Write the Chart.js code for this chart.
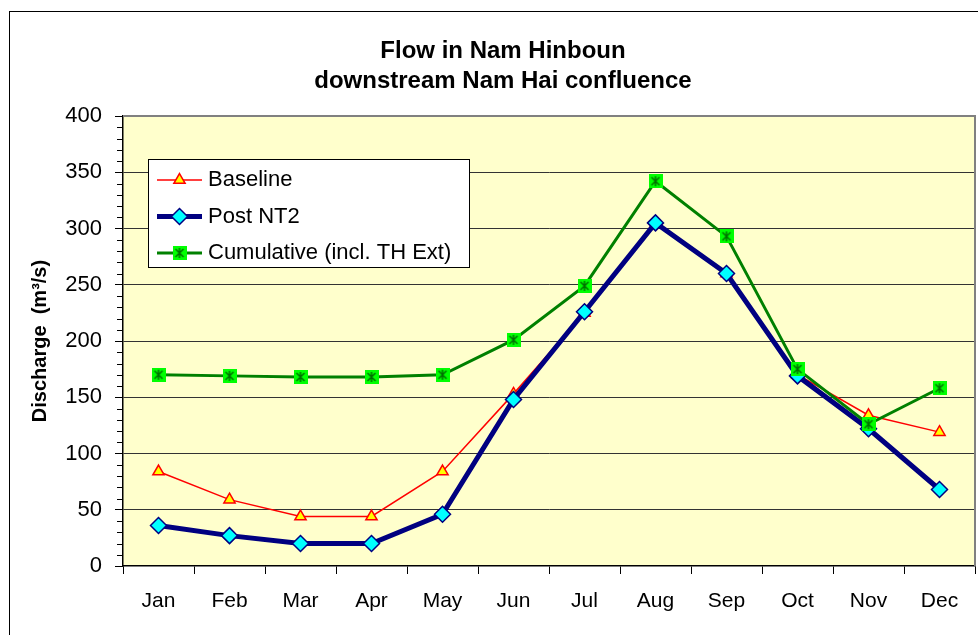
<!DOCTYPE html>
<html>
<head>
<meta charset="utf-8">
<title>Flow in Nam Hinboun</title>
<script src="https://cdn.jsdelivr.net/npm/chart.js@4/dist/chart.umd.min.js"></script>
<style>
  html, body { margin: 0; padding: 0; background: #fff; }
  canvas { display: block; }
</style>
</head>
<body>
<canvas id="flowChart" width="978" height="635"></canvas>
<script>
var months = ["Jan", "Feb", "Mar", "Apr", "May", "Jun", "Jul", "Aug", "Sep", "Oct", "Nov", "Dec"]
var baseline = [84, 59, 44, 44, 84, 153, 225, 304, 260, 170, 134, 119]
var postNT2 = [36, 27, 20, 20, 46, 148, 226, 305, 260, 169, 122, 68]
var cumulative = [170, 169, 168, 168, 170, 201, 249, 342, 293, 175, 126, 158]
var titleLines = ["Flow in Nam Hinboun", "downstream Nam Hai confluence"]
var yTitle = "Discharge  (m\u00b3/s)"

var fontFamily = "'Liberation Sans', Arial, sans-serif"
Chart.defaults.font.family = fontFamily
Chart.defaults.color = "#000"

// green square with a dark asterisk, like the Excel marker
function starSquare() {
  var c = document.createElement("canvas")
  c.width = 14
  c.height = 14
  var g = c.getContext("2d")
  g.fillStyle = "#00ff00"
  g.fillRect(0, 0, 14, 14)
  g.strokeStyle = "#007000"
  g.lineWidth = 1.5
  g.beginPath()
  g.moveTo(7, 2); g.lineTo(7, 12)
  g.moveTo(3, 3); g.lineTo(11, 11)
  g.moveTo(11, 3); g.lineTo(3, 11)
  g.stroke()
  return c
}

var chartFrame = {
  id: "chartFrame",
  beforeDraw: function(chart) {
    var ctx = chart.ctx
    var a = chart.chartArea
    ctx.save()
    ctx.fillStyle = "#ffffcc"
    ctx.fillRect(a.left, a.top, a.right - a.left, a.bottom - a.top)
    ctx.strokeStyle = "#000"
    ctx.lineWidth = 1
    ctx.strokeRect(9.5, 11.5, 2000, 2000)

    ctx.fillStyle = "#000"
    ctx.font = "bold 24px " + fontFamily
    ctx.textAlign = "center"
    ctx.textBaseline = "alphabetic"
    ctx.fillText(titleLines[0], 503, 58)
    ctx.fillText(titleLines[1], 503, 88)
    ctx.restore()
  },
  afterDraw: function(chart) {
    var ctx = chart.ctx
    var a = chart.chartArea
    var y = chart.scales.y
    ctx.save()
    // plot area border, top and right
    ctx.strokeStyle = "#808080"
    ctx.lineWidth = 2
    ctx.beginPath()
    ctx.moveTo(a.left, a.top)
    ctx.lineTo(a.right, a.top)
    ctx.lineTo(a.right, a.bottom)
    ctx.stroke()

    // minor ticks every 10
    ctx.strokeStyle = "#000"
    ctx.lineWidth = 1
    ctx.beginPath()
    for (var v = 10; v < 400; v += 10) {
      if (v % 50 === 0) continue
      var py = Math.round(y.getPixelForValue(v)) + 0.5
      ctx.moveTo(a.left - 6, py)
      ctx.lineTo(a.left, py)
    }
    ctx.stroke()

    // legend
    ctx.fillStyle = "#fff"
    ctx.fillRect(148.5, 159.5, 321, 108)
    ctx.strokeStyle = "#000"
    ctx.lineWidth = 1
    ctx.strokeRect(148.5, 159.5, 321, 108)
    chart.data.datasets.forEach(function(ds, i) {
      var ly = 180 + i * 36.5
      ctx.strokeStyle = ds.borderColor
      ctx.lineWidth = ds.borderWidth
      ctx.beginPath()
      ctx.moveTo(157, ly)
      ctx.lineTo(202, ly)
      ctx.stroke()
      ctx.fillStyle = ds.pointBackgroundColor
      ctx.strokeStyle = ds.pointBorderColor
      ctx.lineWidth = ds.pointBorderWidth
      Chart.helpers.drawPoint(ctx, {
        pointStyle: ds.pointStyle,
        radius: ds.pointRadius,
        rotation: 0,
        borderWidth: ds.pointBorderWidth
      }, 179.5, ly)
      ctx.fillStyle = "#000"
      ctx.font = "22px " + fontFamily
      ctx.textAlign = "left"
      ctx.textBaseline = "middle"
      ctx.fillText(ds.label, 208, ly)
    })
    ctx.restore()
  }
}

new Chart(document.getElementById("flowChart"), {
  type: "line",
  data: {
    labels: months,
    datasets: [{
      label: "Baseline",
      data: baseline,
      borderColor: "#ff0000",
      borderWidth: 1.5,
      pointStyle: "triangle",
      pointRadius: 6.5,
      pointBackgroundColor: "#ffff00",
      pointBorderColor: "#ff0000",
      pointBorderWidth: 1.5,
      tension: 0,
      order: 2
    }, {
      label: "Post NT2",
      data: postNT2,
      borderColor: "#000080",
      borderWidth: 5,
      pointStyle: "rectRot",
      pointRadius: 8,
      pointBackgroundColor: "#00ffff",
      pointBorderColor: "#000080",
      pointBorderWidth: 1.5,
      tension: 0,
      order: 1
    }, {
      label: "Cumulative (incl. TH Ext)",
      data: cumulative,
      borderColor: "#008000",
      borderWidth: 3,
      pointStyle: starSquare(),
      pointRadius: 7,
      pointBackgroundColor: "#00ff00",
      pointBorderColor: "#007000",
      pointBorderWidth: 0,
      tension: 0,
      order: 0
    }]
  },
  options: {
    responsive: false,
    animation: false,
    events: [],
    layout: {
      autoPadding: false,
      padding: { top: 116, right: 3, bottom: 0, left: 0 }
    },
    plugins: {
      legend: { display: false },
      title: { display: false },
      tooltip: { enabled: false }
    },
    scales: {
      x: {
        offset: true,
        afterFit: function(scale) { scale.height = 69 },
        grid: {
          offset: true,
          drawOnChartArea: false,
          tickLength: 8,
          tickColor: "#000",
          tickWidth: 1
        },
        border: { color: "#000", width: 1.5 },
        ticks: {
          padding: 15,
          font: { size: 21 },
          maxRotation: 0
        }
      },
      y: {
        min: 0,
        max: 400,
        afterFit: function(scale) { scale.width = 123 },
        grid: {
          color: function(c) {
            return c.tick && (c.tick.value === 0 || c.tick.value === 400) ? "rgba(0,0,0,0)" : "#333"
          },
          lineWidth: 1,
          tickLength: 8,
          tickColor: "#000",
          tickWidth: 1
        },
        border: { color: "#000", width: 1.5 },
        ticks: {
          stepSize: 50,
          padding: 13,
          font: { size: 22 }
        },
        title: {
          display: true,
          text: yTitle,
          font: { size: 20, weight: "bold" },
          padding: { top: 28, bottom: 0 }
        }
      }
    }
  },
  plugins: [chartFrame]
})
</script>
</body>
</html>
